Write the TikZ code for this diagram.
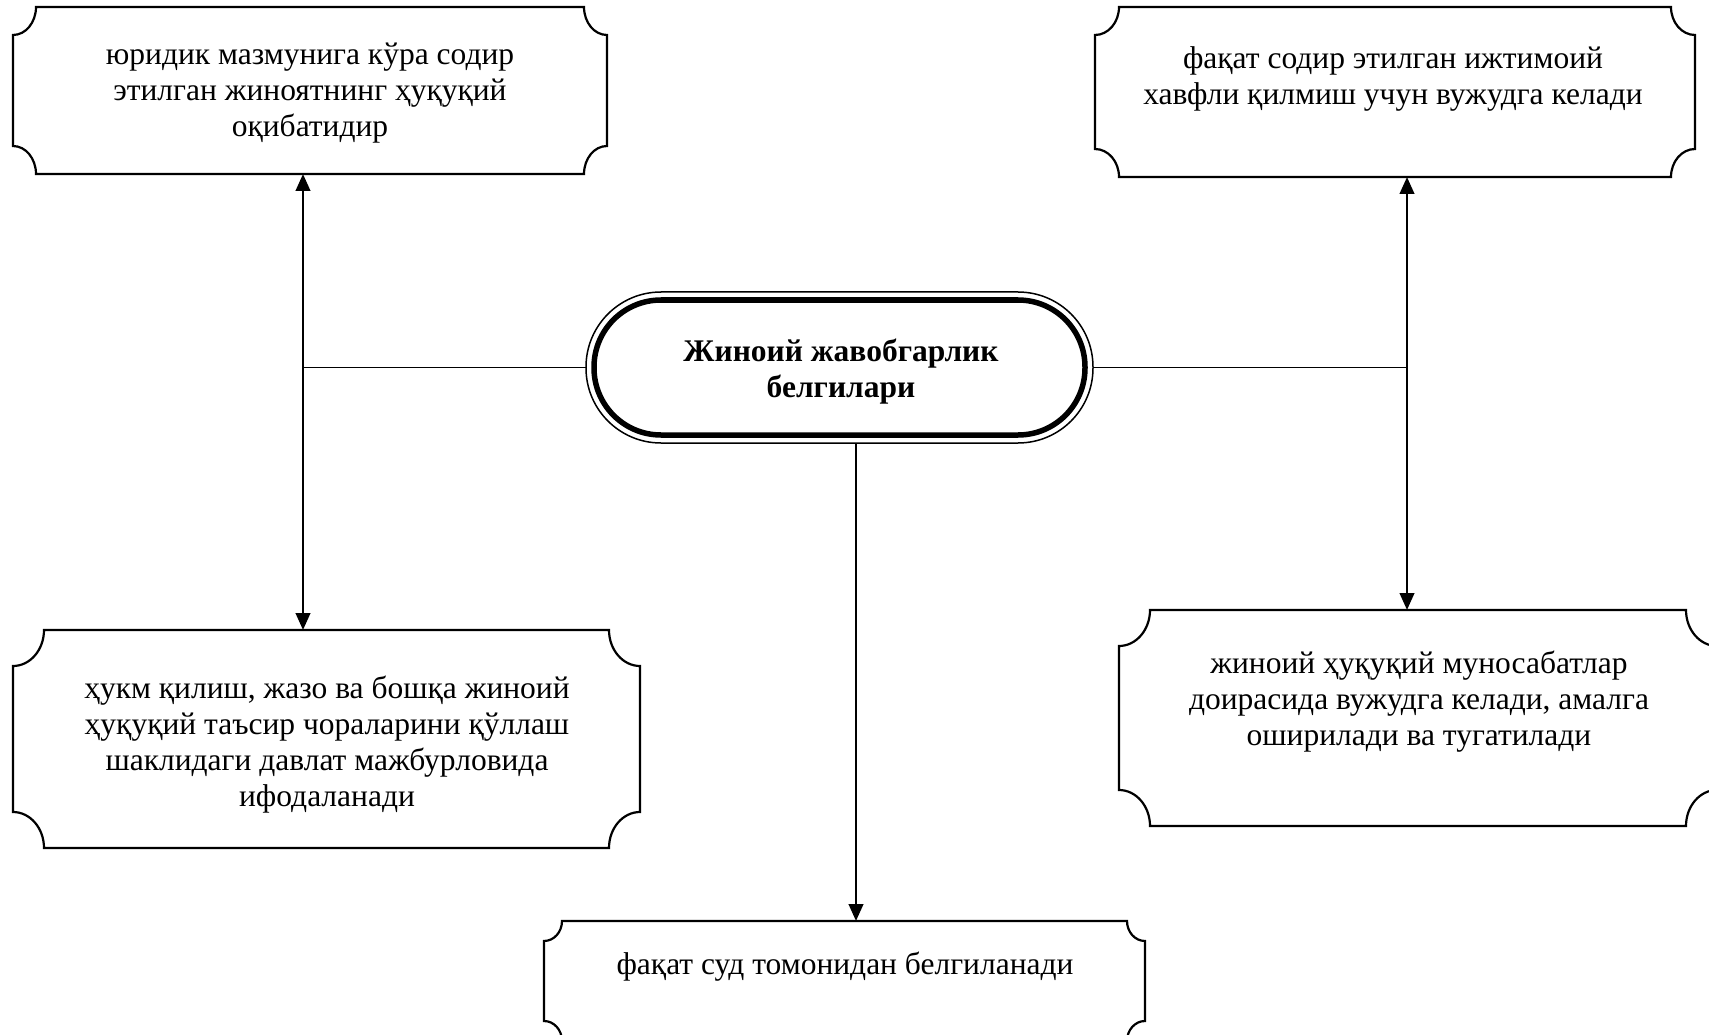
\documentclass[tikz,border=0pt]{standalone}
\usepackage{fontspec}
\setmainfont{Liberation Serif}
\usetikzlibrary{arrows.meta}
\newcommand{\plaquebox}[3]{%
  \draw[boxline] ([xshift=#2]#1.north west) -- ([xshift=-#2]#1.north east)
    arc[start angle=180,end angle=270,x radius=#2,y radius=#3]
    -- ([yshift=#3]#1.south east)
    arc[start angle=90,end angle=180,x radius=#2,y radius=#3]
    -- ([xshift=#2]#1.south west)
    arc[start angle=0,end angle=90,x radius=#2,y radius=#3]
    -- ([yshift=-#3]#1.north west)
    arc[start angle=270,end angle=360,x radius=#2,y radius=#3] -- cycle;}
\begin{document}
\begin{tikzpicture}[x=1pt,y=1pt,
  area/.style={rectangle, inner sep=0pt, outer sep=0pt},
  txt/.style={align=center, inner sep=0pt, font=\fontsize{31.5}{36}\selectfont},
  boxline/.style={line width=2.2pt},
  conn/.style={line width=2.6pt},
  hconn/.style={line width=1.8pt},
  tipb/.style={{Triangle[length=17pt,width=14.5pt]}-{Triangle[length=17pt,width=14.5pt]}},
  tipe/.style={-{Triangle[length=17pt,width=14.5pt]}}]
\useasboundingbox (0,0) rectangle (1709,-1035);
\fill[white] (0,0) rectangle (1709,-1035);
\clip (0,0) rectangle (1709,-1035);

% boxes
\node[area, minimum width=594pt, minimum height=167pt] (tl) at (310,-90.5) {};
\node[area, minimum width=600pt, minimum height=170pt] (tr) at (1395,-92) {};
\node[area, minimum width=627pt, minimum height=218pt] (bl) at (326.5,-739) {};
\node[area, minimum width=598pt, minimum height=216pt] (br) at (1418,-718) {};
\node[area, minimum width=601pt, minimum height=120pt] (bot) at (844.5,-981) {};

\plaquebox{tl}{23pt}{28pt}
\plaquebox{tr}{24pt}{28pt}
\plaquebox{bl}{31pt}{36pt}
\plaquebox{br}{31pt}{36pt}
\plaquebox{bot}{18pt}{20pt}

% texts
\node[txt] (tlt) at (310,-93.5) {юридик мазмунига кўра содир\\этилган жиноятнинг ҳуқуқий\\оқибатидир};
\node[txt] (trt) at (1393,-78.5) {фақат содир этилган ижтимоий\\хавфли қилмиш учун вужудга келади};
\node[txt] (blt) at (327,-745) {ҳукм қилиш, жазо ва бошқа жиноий\\ҳуқуқий таъсир чораларини қўллаш\\шаклидаги давлат мажбурловида\\ифодаланади};
\node[txt] (brt) at (1419,-702) {жиноий ҳуқуқий муносабатлар\\доирасида вужудга келади, амалга\\оширилади ва тугатилади};
\node[txt] (bott) at (845,-967) {фақат суд томонидан белгиланади};

% central stadium
\node[area, draw, line width=1.5pt, rounded corners=75pt, minimum width=507pt, minimum height=151pt] (cen) at (839.5,-367.5) {};
\draw[line width=5.5pt, rounded corners=67pt] ([shift={(8,-8)}]cen.north west) rectangle ([shift={(-8,8)}]cen.south east);
\node[txt, font=\fontsize{31.5}{36}\selectfont\bfseries] (cent) at (841,-372) {Жиноий жавобгарлик\\белгилари};

% connectors
\coordinate (lx) at (303,-367.5);
\coordinate (rx) at (1407,-367.5);
\coordinate (dx) at (856,-367.5);
\draw[conn, tipb] (lx |- tl.south) -- (lx |- bl.north);
\draw[conn, tipb] (rx |- tr.south) -- (rx |- br.north);
\draw[hconn] (cen.west) -- (lx);
\draw[hconn] (cen.east) -- (rx);
\draw[conn, tipe] (dx |- cen.south) -- (dx |- bot.north);
\end{tikzpicture}
\end{document}
